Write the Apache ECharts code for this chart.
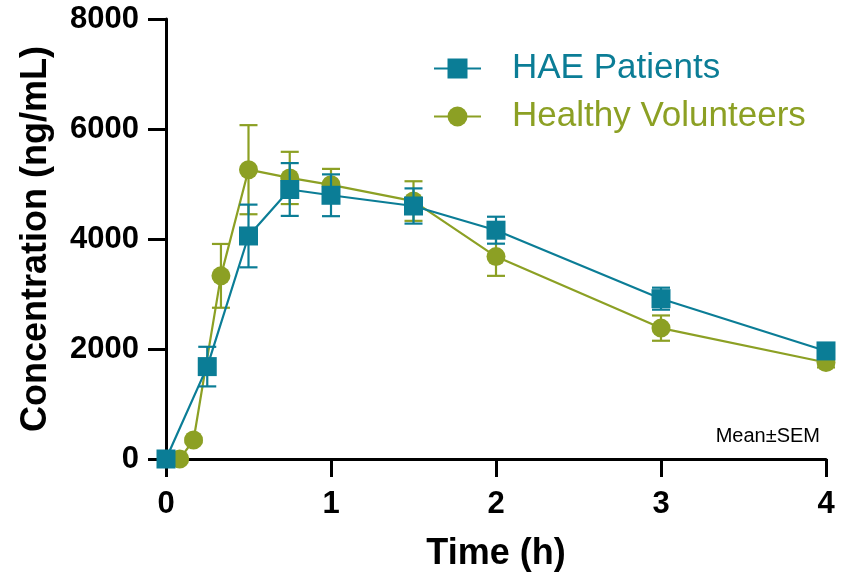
<!DOCTYPE html>
<html>
<head>
<meta charset="UTF-8">
<title>Concentration vs Time</title>
<script src="https://cdn.jsdelivr.net/npm/echarts@6/dist/echarts.min.js"></script>
<style>
  * { padding: 0; margin: 0; }
  #main { width: 844px; height: 577px; }
</style>
</head>
<body>
<div id="main"></div>
<script>
// values (mean and SEM, ng/mL)
var haeTimes = [0, 0.25, 0.5, 0.75, 1, 1.5, 2, 3, 4];
var haeMean  = [0, 1680, 4055, 4900, 4795, 4600, 4160, 2915, 1965];
var haeSem   = [0, 360, 570, 480, 380, 320, 245, 200, 70];

var hvTimes = [0.083, 0.167, 0.333, 0.5, 0.75, 1, 1.5, 2, 3, 4];
var hvMean  = [0, 345, 3330, 5260, 5110, 4985, 4690, 3680, 2380, 1755];
var hvSem   = [0, 40, 580, 810, 475, 290, 360, 350, 230, 90];

var xTicks = [0, 1, 2, 3, 4];
var yTicks = [0, 2000, 4000, 6000, 8000];

var TEAL = '#0b7d96';
var OLIVE = '#8ca024';
var FONT = '"Liberation Sans", Arial, sans-serif';

function points(t, m) {
  return t.map(function (x, i) { return [x, m[i]]; });
}
function bars(t, m, s) {
  return t.map(function (x, i) { return [x, m[i] - s[i], m[i] + s[i]]; });
}

function errRenderer(color) {
  return function (params, api) {
    var x = api.value(0);
    var lo = api.coord([x, api.value(1)]);
    var hi = api.coord([x, api.value(2)]);
    var w = 9;
    var st = { stroke: color, lineWidth: 2.2, fill: null };
    return {
      type: 'group',
      children: [
        { type: 'line', shape: { x1: hi[0], y1: hi[1], x2: lo[0], y2: lo[1] }, style: st },
        { type: 'line', shape: { x1: hi[0] - w, y1: hi[1], x2: hi[0] + w, y2: hi[1] }, style: st },
        { type: 'line', shape: { x1: lo[0] - w, y1: lo[1], x2: lo[0] + w, y2: lo[1] }, style: st }
      ]
    };
  };
}

var chart = echarts.init(document.getElementById('main'));

chart.setOption({
  animation: false,
  grid: { left: 166, right: 18, top: 19, bottom: 118, containLabel: false },
  legend: {
    orient: 'vertical',
    left: 428,
    top: 46,
    itemWidth: 47,
    itemHeight: 25,
    itemGap: 13,
    textStyle: { fontFamily: FONT, fontSize: 35, lineHeight: 25, padding: [0, 0, 0, 26] },
    data: [
      { name: 'HAE Patients', textStyle: { color: TEAL } },
      { name: 'Healthy Volunteers', textStyle: { color: OLIVE } }
    ]
  },
  xAxis: {
    type: 'value',
    min: 0, max: 4, interval: 1,
    name: 'Time (h)',
    nameLocation: 'middle',
    nameGap: 77,
    nameTextStyle: { fontFamily: FONT, fontSize: 36, fontWeight: 'bold', color: '#000' },
    axisLine: { onZero: false, lineStyle: { color: '#000', width: 3 } },
    axisTick: { length: 18, lineStyle: { color: '#000', width: 3 } },
    axisLabel: {
      margin: 30, fontFamily: FONT, fontSize: 31, fontWeight: 'bold', color: '#000',
      formatter: function (v) { return xTicks.indexOf(v) >= 0 ? String(v) : ''; }
    },
    splitLine: { show: false }
  },
  yAxis: {
    type: 'value',
    min: 0, max: 8000, interval: 2000,
    name: 'Concentration (ng/mL)',
    nameLocation: 'middle',
    nameGap: 112,
    nameTextStyle: { fontFamily: FONT, fontSize: 36, fontWeight: 'bold', color: '#000' },
    axisLine: { show: true, lineStyle: { color: '#000', width: 3 } },
    axisTick: { show: true, length: 18, lineStyle: { color: '#000', width: 3 } },
    axisLabel: {
      margin: 27, fontFamily: FONT, fontSize: 31, fontWeight: 'bold', color: '#000',
      formatter: function (v) { return yTicks.indexOf(v) >= 0 ? String(v) : ''; }
    },
    splitLine: { show: false }
  },
  graphic: [{
    type: 'text',
    right: 24,
    top: 426,
    style: { text: 'Mean\u00b1SEM', fontFamily: FONT, fontSize: 20, fill: '#000' }
  }],
  series: [
    {
      name: 'hv-err',
      type: 'custom',
      renderItem: errRenderer(OLIVE),
      encode: { x: 0, y: [1, 2] },
      data: bars(hvTimes, hvMean, hvSem),
      clip: false,
      z: 1
    },
    {
      name: 'Healthy Volunteers',
      type: 'line',
      data: points(hvTimes, hvMean),
      symbol: 'circle',
      symbolSize: 19,
      color: OLIVE,
      lineStyle: { width: 2.2, color: OLIVE },
      itemStyle: { color: OLIVE },
      clip: false,
      z: 2
    },
    {
      name: 'hae-err',
      type: 'custom',
      renderItem: errRenderer(TEAL),
      encode: { x: 0, y: [1, 2] },
      data: bars(haeTimes, haeMean, haeSem),
      clip: false,
      z: 3
    },
    {
      name: 'HAE Patients',
      type: 'line',
      data: points(haeTimes, haeMean),
      symbol: 'rect',
      symbolSize: 19,
      color: TEAL,
      lineStyle: { width: 2.2, color: TEAL },
      itemStyle: { color: TEAL },
      clip: false,
      z: 4
    }
  ]
});
</script>
</body>
</html>
